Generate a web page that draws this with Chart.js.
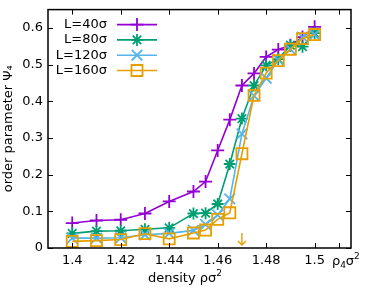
<!DOCTYPE html>
<html>
<head>
<meta charset="utf-8">
<script src="https://cdn.jsdelivr.net/npm/chart.js@4"></script>
<style>
  html, body { margin: 0; padding: 0; background: #fff; }
  #wrap { width: 366px; height: 291px; }
</style>
</head>
<body>
<div id="wrap"><canvas id="chart-psi4"></canvas></div>
<script>
const densityValue = [1.40, 1.41, 1.42, 1.43, 1.44, 1.45, 1.455, 1.46, 1.465, 1.47, 1.475, 1.48, 1.485, 1.49, 1.495, 1.50];
const psiL40 = [0.068, 0.075, 0.077, 0.094, 0.127, 0.154, 0.181, 0.266, 0.350, 0.443, 0.476, 0.521, 0.541, 0.553, 0.575, 0.603];
const psiL80 = [0.040, 0.046, 0.047, 0.051, 0.055, 0.094, 0.095, 0.120, 0.229, 0.353, 0.443, 0.498, 0.515, 0.553, 0.549, 0.586];
const psiL120 = [0.027, 0.027, 0.028, 0.036, 0.040, 0.048, 0.064, 0.090, 0.134, 0.311, 0.415, 0.463, 0.513, 0.542, 0.575, 0.582];
const psiL160 = [0.018, 0.020, 0.023, 0.039, 0.025, 0.041, 0.049, 0.078, 0.096, 0.257, 0.416, 0.477, 0.511, 0.542, 0.571, 0.582];
const seriesLabels = ['L=40σ', 'L=80σ', 'L=120σ', 'L=160σ'];
const xTickValues = [1.40, 1.42, 1.44, 1.46, 1.48, 1.50, 1.51];
const yTickValues = [0, 0.1, 0.2, 0.3, 0.4, 0.5, 0.6];
const rho4 = 1.51;
const arrowX = 1.47;

const FONT = 'DejaVu Sans';
const colors = ['#9400d3', '#009e73', '#56b4e9', '#e69f00'];
const styles = ['cross', 'star', 'crossRot', 'rect'];
const radii = [6.5, 6, 7.5, 7.8];

function pts(ys) {
    return densityValue.map(function (x, i) { return { x: x, y: ys[i] }; });
}

// text with sub/superscripts: parts = [[text, size, dy], ...]
function drawRich(ctx, parts, x, y) {
    parts.forEach(function (p) {
        ctx.font = p[1] + 'px ' + FONT;
        ctx.fillText(p[0], x, y + p[2]);
        x += ctx.measureText(p[0]).width;
    });
}

const allSeries = [psiL40, psiL80, psiL120, psiL160];
const datasets = allSeries.map(function (ys, i) {
    return {
        label: seriesLabels[i],
        data: pts(ys),
        borderColor: colors[i],
        backgroundColor: 'rgba(0,0,0,0)',
        borderWidth: 1.6,
        pointStyle: styles[i],
        pointRadius: radii[i],
        pointBorderWidth: 1.8,
        pointBorderColor: colors[i],
        pointBackgroundColor: 'rgba(0,0,0,0)',
        tension: 0,
        fill: false,
        order: 4 - i
    };
});

// frame, inward ticks, legend, arrow, x labels
const gnuplotDecor = {
    id: 'gnuplotDecor',
    afterDatasetsDraw(chart) {
        const ctx = chart.ctx;
        const a = chart.chartArea;
        const xs = chart.scales.x, ys = chart.scales.y;
        ctx.save();
        ctx.strokeStyle = '#000';
        ctx.lineWidth = 1;
        ctx.beginPath();
        yTickValues.forEach(function (v) {
            const p = Math.round(ys.getPixelForValue(v)) + 0.5;
            ctx.moveTo(a.left, p); ctx.lineTo(a.left + 5, p);
            ctx.moveTo(a.right, p); ctx.lineTo(a.right - 5, p);
        });
        xTickValues.forEach(function (v) {
            const p = Math.round(xs.getPixelForValue(v)) + 0.5;
            ctx.moveTo(p, a.bottom); ctx.lineTo(p, a.bottom - 5);
            ctx.moveTo(p, a.top); ctx.lineTo(p, a.top + 5);
        });
        ctx.stroke();
        ctx.lineWidth = 1.5;
        ctx.strokeRect(a.left, a.top, a.right - a.left, a.bottom - a.top);

        // rho4 tick label and x axis title
        ctx.fillStyle = '#000';
        ctx.textAlign = 'left';
        ctx.textBaseline = 'alphabetic';
        drawRich(ctx, [['ρ', 13, 0], ['4', 9, 3], ['σ', 13, 0], ['2', 9, -6]],
            xs.getPixelForValue(rho4) - 7, a.bottom + 17);
        drawRich(ctx, [['density ρσ', 13, 0], ['2', 9, -6]], a.left + 100, a.bottom + 34);

        // arrow
        const ax = xs.getPixelForValue(arrowX);
        ctx.strokeStyle = colors[3];
        ctx.lineWidth = 1.4;
        ctx.beginPath();
        ctx.moveTo(ax, a.bottom - 15); ctx.lineTo(ax, a.bottom - 3);
        ctx.moveTo(ax - 4, a.bottom - 7); ctx.lineTo(ax, a.bottom - 3); ctx.lineTo(ax + 4, a.bottom - 7);
        ctx.stroke();

        // legend
        ctx.font = '13px ' + FONT;
        ctx.textAlign = 'right';
        ctx.textBaseline = 'middle';
        chart.data.datasets.forEach(function (ds, i) {
            const y = a.top + 15 + i * 15.3;
            ctx.fillStyle = '#000';
            ctx.fillText(ds.label, a.left + 59, y);
            ctx.strokeStyle = ds.borderColor;
            ctx.lineWidth = 1.6;
            ctx.beginPath();
            ctx.moveTo(a.left + 69, y); ctx.lineTo(a.left + 109, y);
            ctx.stroke();
            ctx.lineWidth = 1.8;
            ctx.fillStyle = 'rgba(0,0,0,0)';
            Chart.helpers.drawPoint(ctx, { pointStyle: ds.pointStyle, radius: ds.pointRadius, rotation: 0, borderWidth: 1.8 }, a.left + 89, y);
        });
        ctx.restore();
    }
};

const ctxPsi = document.getElementById('chart-psi4').getContext('2d');
const chartPsi = new Chart(ctxPsi, {
    type: 'line',
    data: { datasets: datasets },
    options: {
        responsive: true,
        maintainAspectRatio: false,
        animation: false,
        layout: { padding: { top: 7, right: 15, left: 0, bottom: 0 } },
        plugins: { legend: { display: false }, tooltip: { enabled: false } },
        scales: {
            x: {
                type: 'linear',
                min: 1.39,
                max: 1.515,
                afterBuildTicks: function (s) { s.ticks = xTickValues.map(function (v) { return { value: v }; }); },
                afterFit: function (s) { s.height = 43; s.paddingLeft = 0; s.paddingRight = 0; },
                grid: { display: false, drawTicks: false },
                border: { display: false },
                ticks: {
                    color: '#000', padding: 5, maxRotation: 0, autoSkip: false,
                    font: { family: FONT, size: 13 },
                    callback: function (v) { return v === rho4 ? '' : String(Math.round(v * 100) / 100); }
                },
                title: { display: false }
            },
            y: {
                min: 0,
                max: 0.65,
                afterBuildTicks: function (s) { s.ticks = yTickValues.map(function (v) { return { value: v }; }); },
                afterFit: function (s) { s.width = 48; s.paddingTop = 0; s.paddingBottom = 0; },
                grid: { display: false, drawTicks: false },
                border: { display: false },
                ticks: {
                    color: '#000', padding: 5,
                    font: { family: FONT, size: 13 },
                    callback: function (v) { return String(Math.round(v * 10) / 10); }
                },
                title: { display: true, text: 'order parameter Ψ₄', color: '#000', padding: { top: 1, bottom: 2 }, font: { family: FONT, size: 13 } }
            }
        }
    },
    plugins: [gnuplotDecor]
});
</script>
</body>
</html>
